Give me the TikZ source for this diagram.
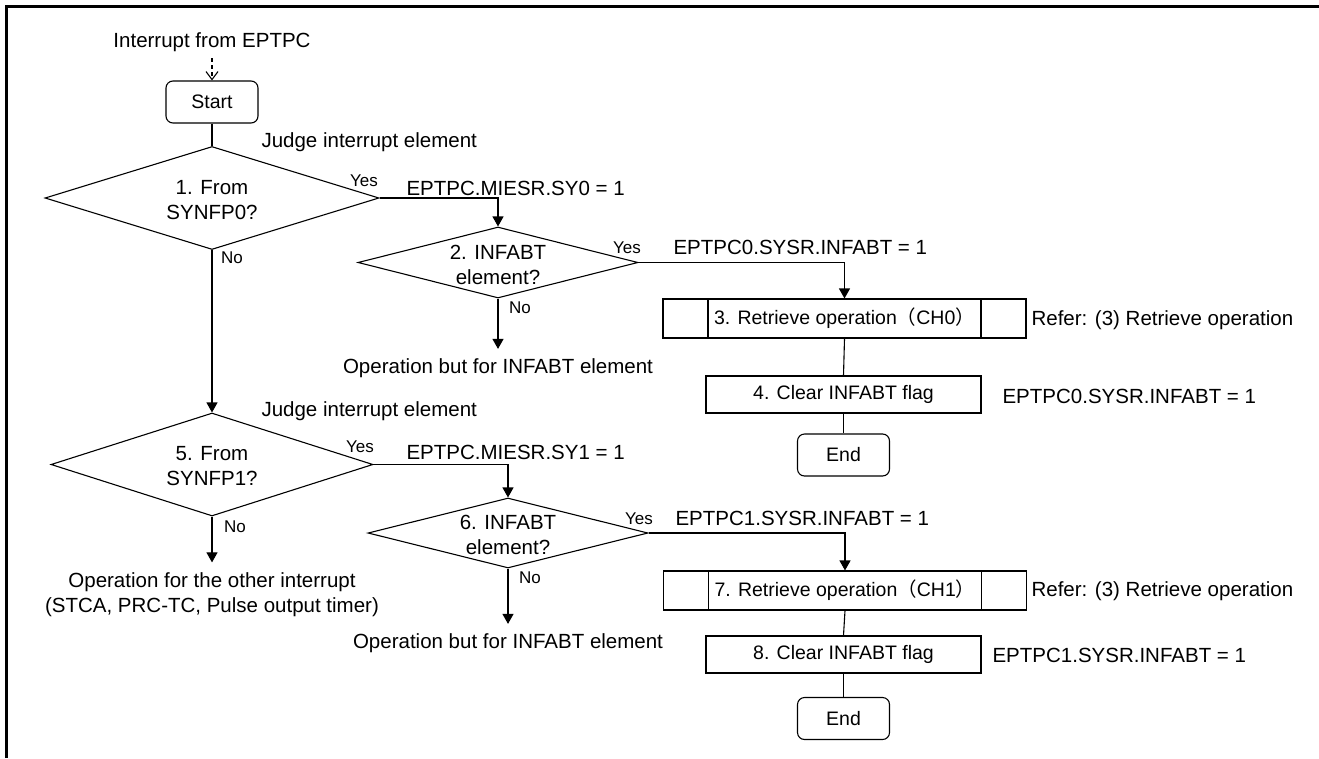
\documentclass[tikz,border=0pt]{standalone}
\usepackage{fontspec}
\setmainfont{Liberation Sans}
\newfontfamily\cjk{Noto Sans CJK JP}
\usetikzlibrary{arrows.meta}
\usetikzlibrary{shapes}

\begin{document}
\begin{tikzpicture}[x = 1pt, y = -1pt, line width = 1.1pt]
\tikzstyle{TermStyle}=[shape = rectangle, rounded corners = 7pt, draw,
                       minimum width = 92pt, minimum height = 42pt,
                       font = \fontsize{19.5}{23}\selectfont]
\tikzstyle{ProcStyle}=[shape = rectangle, draw,
                       minimum width = 275pt, minimum height = 37pt,
                       font = \fontsize{19.5}{23}\selectfont]
\tikzstyle{SubStyle}=[ProcStyle, minimum width = 363pt, minimum height = 39pt,
                      path picture = {
                        \draw ([xshift = 45pt]path picture bounding box.north west)
                           -- ([xshift = 45pt]path picture bounding box.south west);
                        \draw ([xshift = -45pt]path picture bounding box.north east)
                           -- ([xshift = -45pt]path picture bounding box.south east);}]
\tikzstyle{DecStyle}=[shape = diamond, draw, inner sep = 0pt]
\tikzstyle{TextStyle}=[font = \fontsize{20.5}{25}\selectfont, align = center, inner sep = 2pt]
\tikzstyle{LabelStyle}=[font = \fontsize{17}{20}\selectfont, inner sep = 0pt]
\tikzstyle{ArrowStyle}=[-{Triangle[length = 10pt, width = 11pt]}]
\useasboundingbox (0, 0) rectangle (1319, 758);
\draw[line width = 2.5pt] (6.5, 758) -- (6.5, 6.5) -- (1319, 6.5);
% upper part: SYNFP0
\node[TextStyle] (src) at (212, 42) {Interrupt from EPTPC};
\node[TermStyle] (start) at (212, 102) {Start};
\node[TextStyle, anchor = west] (j1) at (259, 142) {Judge interrupt element};
\node[DecStyle, minimum width = 334pt, minimum height = 103pt,
      label = {[TextStyle, yshift = -2pt]center:{1. From\\SYNFP0?}}] (d1) at (212, 198) {};
\node[LabelStyle] (y1) at (364, 181) {Yes};
\node[LabelStyle] (n1) at (232, 258) {No};
\node[TextStyle, anchor = west] (c1) at (404, 188) {EPTPC.MIESR.SY0 = 1};
\node[DecStyle, minimum width = 280pt, minimum height = 71pt,
      label = {[TextStyle, yshift = -2pt]center:{2. INFABT\\element?}}] (d2) at (498, 262.5) {};
\node[LabelStyle] (y2) at (627, 248) {Yes};
\node[LabelStyle] (n2) at (520, 308) {No};
\node[TextStyle, anchor = west] (c2) at (671, 247) {EPTPC0.SYSR.INFABT = 1};
\node[TextStyle] (o2) at (498, 368) {Operation but for INFABT element};
\node[SubStyle] (p3) at (844.5, 318.5) {3. Retrieve operation{\cjk （}CH0{\cjk ）}};
\node[TextStyle, anchor = west] (r3) at (1029, 320) {Refer: (3) Retrieve operation};
\node[ProcStyle] (p4) at (843.5, 394.5) {4. Clear INFABT flag};
\node[TextStyle, anchor = west] (c4) at (1000, 396) {EPTPC0.SYSR.INFABT = 1};
\node[TermStyle] (e4) at (843.5, 455) {End};
% lower part: SYNFP1
\node[TextStyle, anchor = west] (j5) at (259, 411) {Judge interrupt element};
\node[DecStyle, minimum width = 322pt, minimum height = 103pt,
      label = {[TextStyle, yshift = -2pt]center:{5. From\\SYNFP1?}}] (d5) at (212, 464.5) {};
\node[LabelStyle] (y5) at (360, 447) {Yes};
\node[LabelStyle] (n5) at (235, 527) {No};
\node[TextStyle, anchor = west] (c5) at (404, 452) {EPTPC.MIESR.SY1 = 1};
\node[TextStyle] (o5) at (212, 595) {Operation for the other interrupt\\(STCA, PRC-TC, Pulse output timer)};
\node[DecStyle, minimum width = 280pt, minimum height = 70pt,
      label = {[TextStyle, yshift = -2pt]center:{6. INFABT\\element?}}] (d6) at (508, 533) {};
\node[LabelStyle] (y6) at (639, 519) {Yes};
\node[LabelStyle] (n6) at (530, 578) {No};
\node[TextStyle, anchor = west] (c6) at (673, 518) {EPTPC1.SYSR.INFABT = 1};
\node[TextStyle] (o6) at (508, 643) {Operation but for INFABT element};
\node[SubStyle] (p7) at (845, 590.5) {7. Retrieve operation{\cjk （}CH1{\cjk ）}};
\node[TextStyle, anchor = west] (r7) at (1029, 591) {Refer: (3) Retrieve operation};
\node[ProcStyle] (p8) at (843.5, 654.5) {8. Clear INFABT flag};
\node[TextStyle, anchor = west] (c8) at (990, 655) {EPTPC1.SYSR.INFABT = 1};
\node[TermStyle] (e8) at (843.5, 718.5) {End};
% connectors
\draw[dash pattern = on 4pt off 3pt, -{Straight Barb[length = 8pt, width = 12pt]},
      shorten < = 4pt] (src) -- (start);
\draw (start) -- (d1);
\draw[ArrowStyle] (d1.east) -| (d2.north);
\draw[ArrowStyle] (d1.south) -- (d5.north);
\draw[ArrowStyle] (d2.east) -| (p3.north);
\draw[ArrowStyle, shorten > = 7pt] (d2.south) -- (o2.north);
\draw (p3.south) -- (p4.north);
\draw (p4.south) -- (e4.north);
\draw[ArrowStyle] (d5.east) -| (d6.north);
\draw[ArrowStyle, shorten > = 8pt] (d5.south) -- (o5.north);
\draw[ArrowStyle] (d6.east) -| (p7.north);
\draw[ArrowStyle, shorten > = 7pt] (d6.south) -- (o6.north);
\draw (p7.south) -- (p8.north);
\draw (p8.south) -- (e8.north);
\end{tikzpicture}
\end{document}
